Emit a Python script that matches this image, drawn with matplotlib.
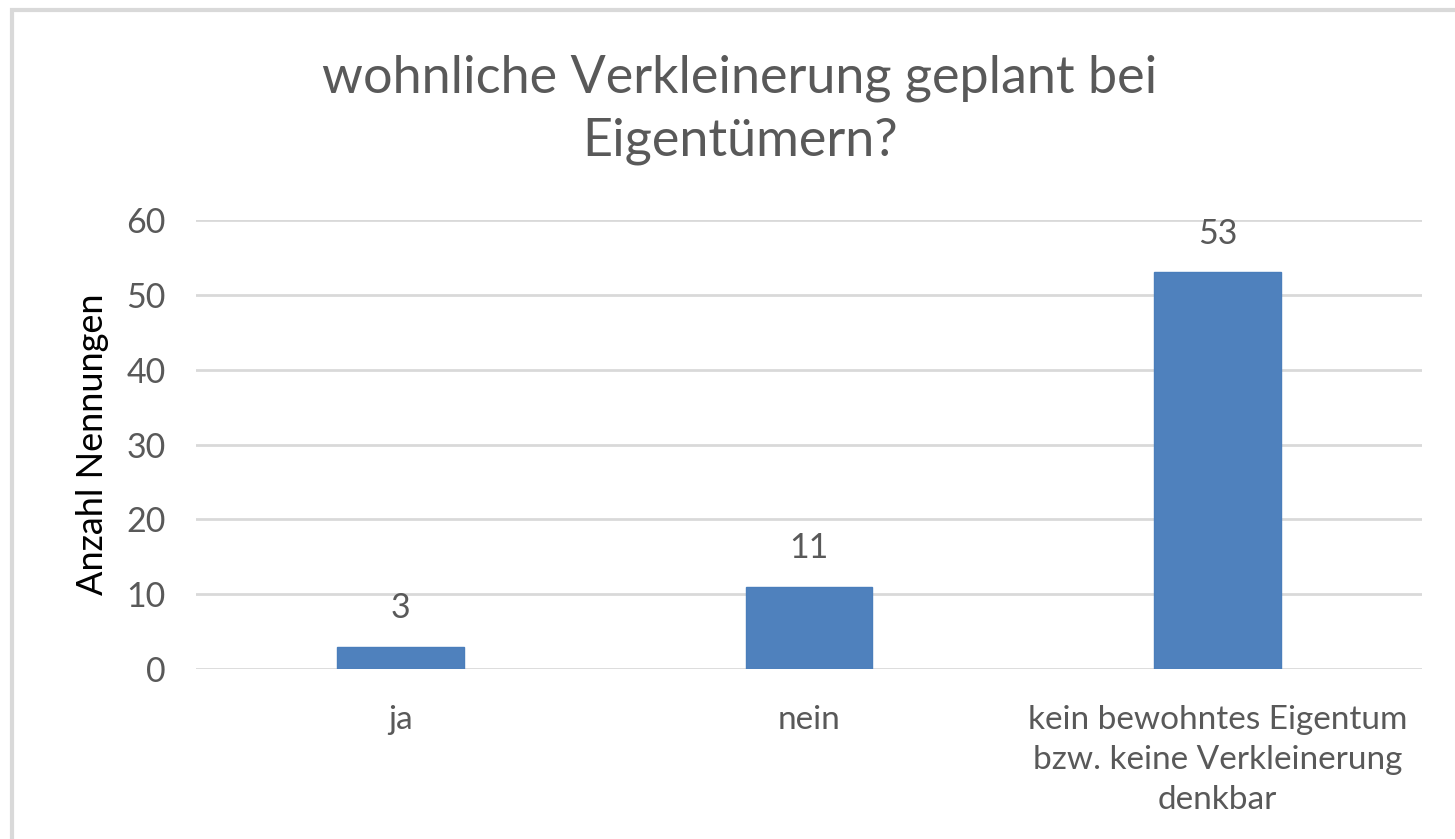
import matplotlib
matplotlib.use("Agg")
import matplotlib.pyplot as plt
from matplotlib.patches import Rectangle

categories = ["ja", "nein", "kein bewohntes Eigentum\nbzw. keine Verkleinerung\ndenkbar"]
values = [3, 11, 53]
yticks = [0, 10, 20, 30, 40, 50, 60]
title = "wohnliche Verkleinerung geplant bei\nEigentümern?"
ylabel = "Anzahl Nennungen"

plt.rcParams['font.family'] = ['Lato', 'DejaVu Sans']
text_col = "#595959"

fig = plt.figure(figsize=(14.55, 8.39), dpi=100)
fig.patches.append(Rectangle((12/1455, -0.1), 1.2, (839-10)/839 + 0.1, transform=fig.transFigure,
                             fill=False, edgecolor="#d9d9d9", linewidth=3))
ax = fig.add_axes([196/1455, 1-669/839, (1422-196)/1455, (669-220)/839])
x = range(len(categories))
bars = ax.bar(x, values, width=0.31, color="#4f81bd", edgecolor="#4a7ebb", linewidth=1, zorder=3)
ax.set_xlim(-0.5, 2.5)
ax.set_ylim(0, 60)
ax.set_yticks(yticks)
ax.set_xticks(list(x))
ax.set_xticklabels(categories, fontsize=24, color=text_col, linespacing=1.42)
ax.tick_params(axis='y', labelsize=24.5, colors=text_col, length=0, pad=22)
ax.tick_params(axis='x', length=0, pad=26)
ax.grid(axis='y', color="#d9d9d9", linewidth=2, zorder=0)
for s in ax.spines.values():
    s.set_visible(False)
for b, v in zip(bars, values):
    ax.text(b.get_x() + b.get_width()/2, v + 3.0, str(v), ha='center', va='bottom',
            fontsize=24.5, color=text_col)
ax.set_ylabel(ylabel, fontsize=26, color="black")
ax.yaxis.set_label_coords((109-196)/(1422-196), 0.5)
fig.text(740/1455, 1-110/839, title, ha='center', va='center', fontsize=37.5,
         color=text_col, linespacing=1.42)
fig.savefig("out.png", dpi=100)
